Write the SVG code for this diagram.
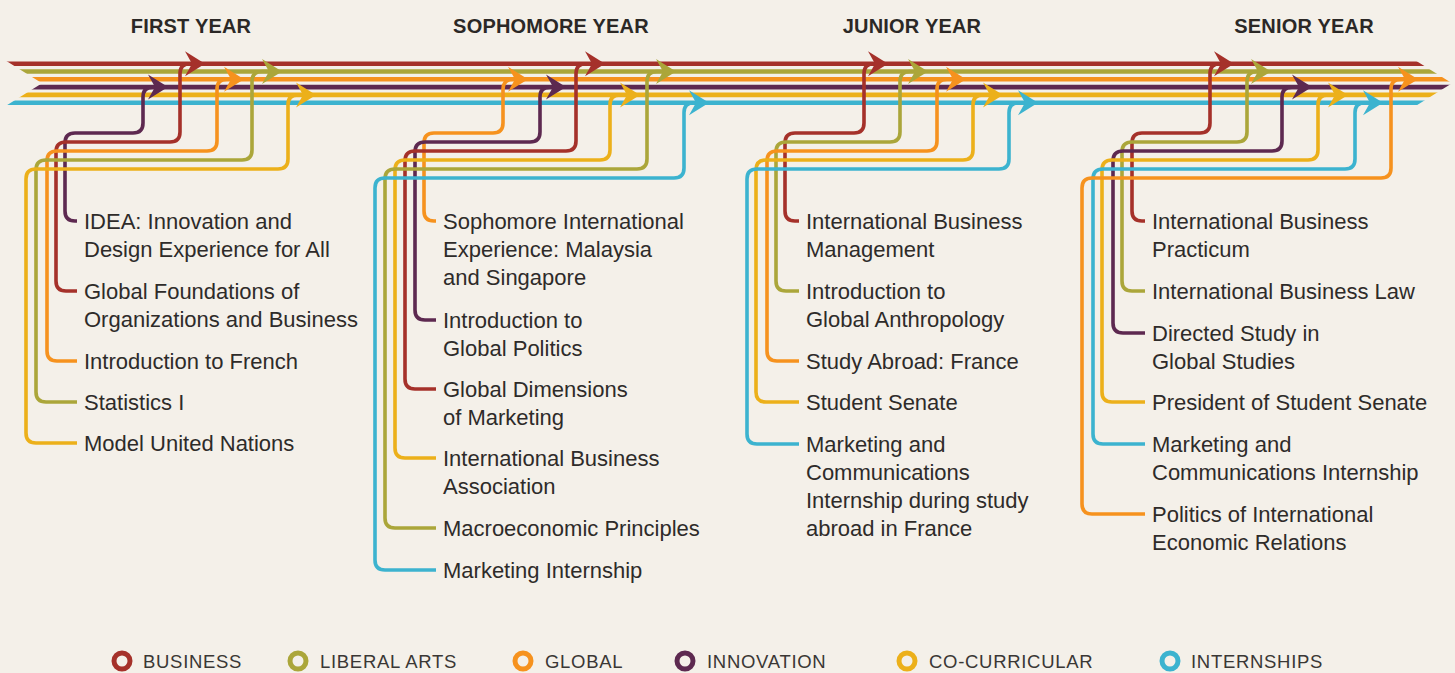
<svg xmlns="http://www.w3.org/2000/svg" xmlns:xlink="http://www.w3.org/1999/xlink" width="1455" height="673" viewBox="0 0 1455 673">
<style>
.bg{fill:#f4f0e9}
.ln{stroke-width:4.6;fill:none}
.cn{stroke-width:3.6;fill:none;stroke-linecap:butt}
.s-red{stroke:#a5312a}.f-red{fill:#a5312a}
.s-olv{stroke:#aba63a}.f-olv{fill:#aba63a}
.s-org{stroke:#f6921e}.f-org{fill:#f6921e}
.s-pur{stroke:#5d2950}.f-pur{fill:#5d2950}
.s-yel{stroke:#ecb01a}.f-yel{fill:#ecb01a}
.s-teal{stroke:#3cb3cf}.f-teal{fill:#3cb3cf}
.hd{font-family:"Liberation Sans",Arial,sans-serif;font-weight:bold;font-size:20px;letter-spacing:0.2px;fill:#2b2826;text-anchor:middle}
.lb{font-family:"Liberation Sans",Arial,sans-serif;font-size:22px;fill:#2e2b29}
.lg{font-family:"Liberation Sans",Arial,sans-serif;font-size:18.5px;letter-spacing:0.7px;fill:#3a3735}
.ring{fill:none;stroke-width:5}
</style>
<defs>
<clipPath id="bundle"><path d="M4,59.5 L1414,59.5 L1452,83.2 L1414,107 L4,107 L42,83.2 Z"/></clipPath>
<path id="ah" d="M1,0 L-19,-12.5 L-12,0 L-19,12.5 Z"/>
</defs>
<rect class="bg" x="0" y="0" width="1455" height="673"/>

<g id="headers">
<text class="hd" x="191" y="33">FIRST YEAR</text>
<text class="hd" x="551" y="33">SOPHOMORE YEAR</text>
<text class="hd" x="912" y="33">JUNIOR YEAR</text>
<text class="hd" x="1304" y="33">SENIOR YEAR</text>
</g>

<g id="timeline" clip-path="url(#bundle)">
<line class="ln s-red" x1="0" y1="63.7" x2="1455" y2="63.7"/>
<line class="ln s-olv" x1="0" y1="71.5" x2="1455" y2="71.5"/>
<line class="ln s-org" x1="0" y1="79.3" x2="1455" y2="79.3"/>
<line class="ln s-pur" x1="0" y1="87.1" x2="1455" y2="87.1"/>
<line class="ln s-yel" x1="0" y1="94.9" x2="1455" y2="94.9"/>
<line class="ln s-teal" x1="0" y1="102.7" x2="1455" y2="102.7"/>
</g>

<g id="connectors">
<!-- First year -->
<path class="cn s-pur" d="M77,221 H75 Q65,221 65,211 V143 Q65,133 75,133 H133 Q143,133 143,123 V97.1 Q143,87.1 153,87.1 H156"/>
<use href="#ah" x="167" y="87.1" class="f-pur"/>
<path class="cn s-red" d="M77,291 H66 Q56,291 56,281 V152 Q56,142 66,142 H170 Q180,142 180,132 V73.7 Q180,63.7 190,63.7 H193"/>
<use href="#ah" x="204" y="63.7" class="f-red"/>
<path class="cn s-org" d="M77,361 H57 Q47,361 47,351 V161 Q47,151 57,151 H207 Q217,151 217,141 V89.3 Q217,79.3 227,79.3 H232"/>
<use href="#ah" x="243" y="79.3" class="f-org"/>
<path class="cn s-olv" d="M77,402 H46 Q36,402 36,392 V170 Q36,160 46,160 H242 Q252,160 252,150 V81.5 Q252,71.5 262,71.5 H270"/>
<use href="#ah" x="281" y="71.5" class="f-olv"/>
<path class="cn s-yel" d="M77,443 H36 Q26,443 26,433 V179 Q26,169 36,169 H278 Q288,169 288,159 V104.9 Q288,94.9 298,94.9 H304"/>
<use href="#ah" x="315" y="94.9" class="f-yel"/>
<!-- Sophomore -->
<path class="cn s-org" d="M436,221 H434 Q424,221 424,211 V143 Q424,133 434,133 H493 Q503,133 503,123 V89.3 Q503,79.3 513,79.3 H516"/>
<use href="#ah" x="527" y="79.3" class="f-org"/>
<path class="cn s-pur" d="M436,320 H425 Q415,320 415,310 V152 Q415,142 425,142 H530 Q540,142 540,132 V97.1 Q540,87.1 550,87.1 H554"/>
<use href="#ah" x="565" y="87.1" class="f-pur"/>
<path class="cn s-red" d="M436,389 H415 Q405,389 405,379 V161 Q405,151 415,151 H566 Q576,151 576,141 V73.7 Q576,63.7 586,63.7 H593"/>
<use href="#ah" x="604" y="63.7" class="f-red"/>
<path class="cn s-yel" d="M436,458 H405 Q395,458 395,448 V170 Q395,160 405,160 H600 Q610,160 610,150 V104.9 Q610,94.9 620,94.9 H628"/>
<use href="#ah" x="639" y="94.9" class="f-yel"/>
<path class="cn s-olv" d="M436,528 H395 Q385,528 385,518 V179 Q385,169 395,169 H637 Q647,169 647,159 V81.5 Q647,71.5 657,71.5 H664"/>
<use href="#ah" x="675" y="71.5" class="f-olv"/>
<path class="cn s-teal" d="M436,570 H385 Q375,570 375,560 V188 Q375,178 385,178 H674 Q684,178 684,168 V112.7 Q684,102.7 694,102.7 H697"/>
<use href="#ah" x="708" y="102.7" class="f-teal"/>
<!-- Junior -->
<path class="cn s-red" d="M799,221 H795 Q785,221 785,211 V143 Q785,133 795,133 H854 Q864,133 864,123 V73.7 Q864,63.7 874,63.7 H876"/>
<use href="#ah" x="887" y="63.7" class="f-red"/>
<path class="cn s-olv" d="M799,291 H786 Q776,291 776,281 V152 Q776,142 786,142 H890 Q900,142 900,132 V81.5 Q900,71.5 910,71.5 H916"/>
<use href="#ah" x="927" y="71.5" class="f-olv"/>
<path class="cn s-org" d="M799,361 H777 Q767,361 767,351 V161 Q767,151 777,151 H927 Q937,151 937,141 V89.3 Q937,79.3 947,79.3 H954"/>
<use href="#ah" x="965" y="79.3" class="f-org"/>
<path class="cn s-yel" d="M799,402 H766 Q756,402 756,392 V170 Q756,160 766,160 H963 Q973,160 973,150 V104.9 Q973,94.9 983,94.9 H991"/>
<use href="#ah" x="1002" y="94.9" class="f-yel"/>
<path class="cn s-teal" d="M799,444 H757 Q747,444 747,434 V179 Q747,169 757,169 H999 Q1009,169 1009,159 V112.7 Q1009,102.7 1019,102.7 H1026"/>
<use href="#ah" x="1037" y="102.7" class="f-teal"/>
<!-- Senior -->
<path class="cn s-red" d="M1145,221 H1142 Q1132,221 1132,211 V143 Q1132,133 1142,133 H1200 Q1210,133 1210,123 V73.7 Q1210,63.7 1220,63.7 H1222"/>
<use href="#ah" x="1233" y="63.7" class="f-red"/>
<path class="cn s-olv" d="M1145,291 H1132 Q1122,291 1122,281 V152 Q1122,142 1132,142 H1237 Q1247,142 1247,132 V81.5 Q1247,71.5 1257,71.5 H1259"/>
<use href="#ah" x="1270" y="71.5" class="f-olv"/>
<path class="cn s-pur" d="M1145,333 H1123 Q1113,333 1113,323 V161 Q1113,151 1123,151 H1272 Q1282,151 1282,141 V97.1 Q1282,87.1 1292,87.1 H1300"/>
<use href="#ah" x="1311" y="87.1" class="f-pur"/>
<path class="cn s-yel" d="M1145,402 H1112 Q1102,402 1102,392 V170 Q1102,160 1112,160 H1308 Q1318,160 1318,150 V104.9 Q1318,94.9 1328,94.9 H1336"/>
<use href="#ah" x="1347" y="94.9" class="f-yel"/>
<path class="cn s-teal" d="M1145,444 H1103 Q1093,444 1093,434 V179 Q1093,169 1103,169 H1345 Q1355,169 1355,159 V112.7 Q1355,102.7 1365,102.7 H1371"/>
<use href="#ah" x="1382" y="102.7" class="f-teal"/>
<path class="cn s-org" d="M1145,514 H1092 Q1082,514 1082,504 V188 Q1082,178 1092,178 H1381 Q1391,178 1391,168 V89.3 Q1391,79.3 1401,79.3 H1406"/>
<use href="#ah" x="1417" y="79.3" class="f-org"/>
</g>

<!-- First year nodes -->
<g id="n-idea"><text class="lb" x="84" y="229">IDEA: Innovation and</text><text class="lb" x="84" y="257">Design Experience for All</text></g>
<g id="n-global-foundations"><text class="lb" x="84" y="299">Global Foundations of</text><text class="lb" x="84" y="327">Organizations and Business</text></g>
<g id="n-intro-french"><text class="lb" x="84" y="369">Introduction to French</text></g>
<g id="n-statistics"><text class="lb" x="84" y="410">Statistics I</text></g>
<g id="n-model-un"><text class="lb" x="84" y="451">Model United Nations</text></g>

<!-- Sophomore nodes -->
<g id="n-soph-intl"><text class="lb" x="443" y="229">Sophomore International</text><text class="lb" x="443" y="257">Experience: Malaysia</text><text class="lb" x="443" y="285">and Singapore</text></g>
<g id="n-global-politics"><text class="lb" x="443" y="328">Introduction to</text><text class="lb" x="443" y="356">Global Politics</text></g>
<g id="n-global-marketing"><text class="lb" x="443" y="397">Global Dimensions</text><text class="lb" x="443" y="425">of Marketing</text></g>
<g id="n-iba"><text class="lb" x="443" y="466">International Business</text><text class="lb" x="443" y="494">Association</text></g>
<g id="n-macro"><text class="lb" x="443" y="536">Macroeconomic Principles</text></g>
<g id="n-mkt-intern"><text class="lb" x="443" y="578">Marketing Internship</text></g>

<!-- Junior nodes -->
<g id="n-ibm"><text class="lb" x="806" y="229">International Business</text><text class="lb" x="806" y="257">Management</text></g>
<g id="n-anthro"><text class="lb" x="806" y="299">Introduction to</text><text class="lb" x="806" y="327">Global Anthropology</text></g>
<g id="n-study-abroad"><text class="lb" x="806" y="369">Study Abroad: France</text></g>
<g id="n-senate"><text class="lb" x="806" y="410">Student Senate</text></g>
<g id="n-mc-intern-fr"><text class="lb" x="806" y="452">Marketing and</text><text class="lb" x="806" y="480">Communications</text><text class="lb" x="806" y="508">Internship during study</text><text class="lb" x="806" y="536">abroad in France</text></g>

<!-- Senior nodes -->
<g id="n-practicum"><text class="lb" x="1152" y="229">International Business</text><text class="lb" x="1152" y="257">Practicum</text></g>
<g id="n-law"><text class="lb" x="1152" y="299">International Business Law</text></g>
<g id="n-directed"><text class="lb" x="1152" y="341">Directed Study in</text><text class="lb" x="1152" y="369">Global Studies</text></g>
<g id="n-president"><text class="lb" x="1152" y="410">President of Student Senate</text></g>
<g id="n-mc-intern"><text class="lb" x="1152" y="452">Marketing and</text><text class="lb" x="1152" y="480">Communications Internship</text></g>
<g id="n-politics"><text class="lb" x="1152" y="522">Politics of International</text><text class="lb" x="1152" y="550">Economic Relations</text></g>

<g id="legend">
<circle class="ring s-red" cx="122" cy="661" r="8"/><text class="lg" x="143" y="668">BUSINESS</text>
<circle class="ring s-olv" cx="298" cy="661" r="8"/><text class="lg" x="320" y="668">LIBERAL ARTS</text>
<circle class="ring s-org" cx="523" cy="661" r="8"/><text class="lg" x="545" y="668">GLOBAL</text>
<circle class="ring s-pur" cx="685" cy="661" r="8"/><text class="lg" x="707" y="668">INNOVATION</text>
<circle class="ring s-yel" cx="907" cy="661" r="8"/><text class="lg" x="929" y="668">CO-CURRICULAR</text>
<circle class="ring s-teal" cx="1170" cy="661" r="8"/><text class="lg" x="1191" y="668">INTERNSHIPS</text>
</g>
</svg>
